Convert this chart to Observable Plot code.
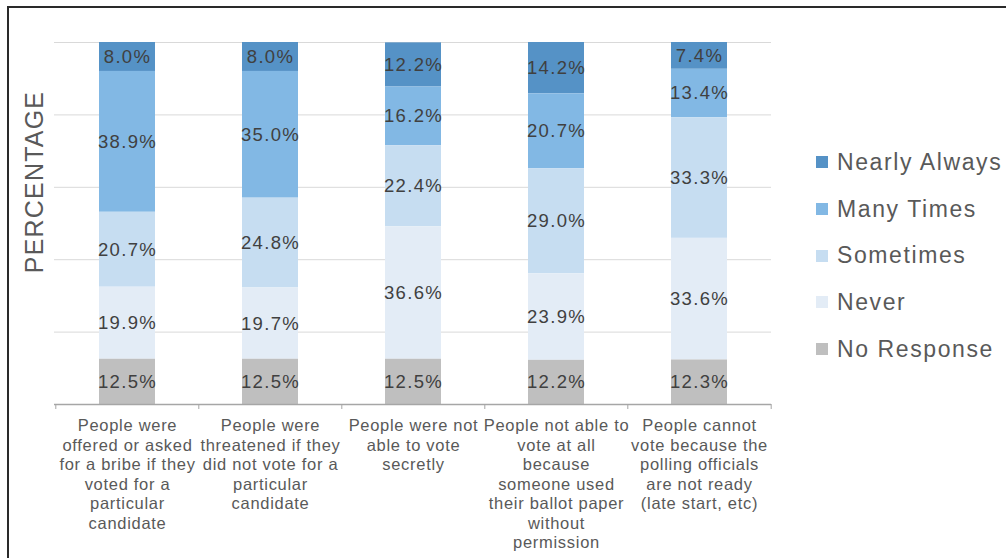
<!DOCTYPE html>
<html>
<head>
<meta charset="utf-8">
<script src="https://cdn.jsdelivr.net/npm/d3@7"></script>
<script src="https://cdn.jsdelivr.net/npm/@observablehq/plot@0.6"></script>
<style>
  html, body { margin: 0; padding: 0; background: #fff; }
  body { width: 1006px; height: 558px; position: relative; overflow: hidden; font-family: "Liberation Sans", Arial, sans-serif; }
  #frame { position: absolute; left: 7px; top: 6px; width: 1100px; height: 700px; border-left: 2px solid #2a2a2a; border-top: 2px solid #2a2a2a; }
  #chart { position: absolute; left: 0; top: 0; }
  #ytitle { position: absolute; left: 34px; top: 182px; transform: translate(-50%, -50%) rotate(-90deg); font-size: 25px; letter-spacing: 1.2px; color: #595959; white-space: nowrap; }
  #legend { position: absolute; left: 816px; top: 139px; }
  .item { height: 46.7px; display: flex; align-items: center; font-size: 23px; letter-spacing: 1.6px; color: #595959; white-space: nowrap; }
  .sw { width: 12px; height: 12px; margin-right: 9px; flex: none; }
  .vals text { letter-spacing: 1.3px; }
  .xlab text { letter-spacing: 0.7px; }
</style>
</head>
<body>
<div id="frame"></div>
<div id="chart"></div>
<div id="ytitle">PERCENTAGE</div>
<div id="legend"></div>
<script>
const categories = [
  "People were\noffered or asked\nfor a bribe if they\nvoted for a\nparticular\ncandidate",
  "People were\nthreatened if they\ndid not vote for a\nparticular\ncandidate",
  "People were not\nable to vote\nsecretly",
  "People not able to\nvote at all\nbecause\nsomeone used\ntheir ballot paper\nwithout\npermission",
  "People cannot\nvote because the\npolling officials\nare not ready\n(late start, etc)"
];
const series = ["Nearly Always", "Many Times", "Sometimes", "Never", "No Response"];
const nearlyAlways = [8.0, 8.0, 12.2, 14.2, 7.4];
const manyTimes = [38.9, 35.0, 16.2, 20.7, 13.4];
const sometimes = [20.7, 24.8, 22.4, 29.0, 33.3];
const never = [19.9, 19.7, 36.6, 23.9, 33.6];
const noResponse = [12.5, 12.5, 12.5, 12.2, 12.3];
const colors = ["#5592c6", "#82b8e4", "#c6ddf1", "#e3ecf6", "#bfbfbf"];
const gridTicks = [20, 40, 60, 80, 100];

const valuesBySeries = [nearlyAlways, manyTimes, sometimes, never, noResponse];
const rows = [];
series.forEach((s, si) => {
  categories.forEach((c, ci) => rows.push({cat: c, series: s, value: valuesBySeries[si][ci]}));
});
const stackOrder = series.slice().reverse();

const W = 1006, H = 558;
const mL = 54, mR = 235, mT = 42, mB = 154;
const step = (W - mL - mR) / categories.length;
const plotH = H - mT - mB;
const tickLen = 5 * 100 / plotH;

const chart = Plot.plot({
  width: W, height: H,
  marginLeft: mL, marginRight: mR, marginTop: mT, marginBottom: mB,
  style: {background: "transparent", fontFamily: "'Liberation Sans', Arial, sans-serif", overflow: "visible"},
  x: {domain: categories, paddingInner: 0.61, paddingOuter: 0.305, axis: null},
  y: {domain: [0, 100], axis: null},
  color: {domain: series, range: colors},
  marks: [
    Plot.gridY(gridTicks, {stroke: "#d9d9d9", strokeOpacity: 1}),
    Plot.barY(rows, Plot.stackY({x: "cat", y: "value", fill: "series", order: stackOrder})),
    Plot.text(rows, Plot.stackY({x: "cat", y: "value", z: "series", order: stackOrder,
      text: d => d.value.toFixed(1) + "%", fill: "#404040", fontSize: 18.5, className: "vals"})),
    Plot.ruleY([0], {stroke: "#a6a6a6", strokeWidth: 1.5}),
    Plot.ruleX(categories, {x: d => d, y1: 0, y2: -tickLen, dx: -step / 2, stroke: "#a6a6a6"}),
    Plot.ruleX(categories.slice(-1), {x: d => d, y1: 0, y2: -tickLen, dx: step / 2, stroke: "#a6a6a6"}),
    Plot.axisX({tickSize: 0, tickPadding: 13, fontSize: 16.5, lineHeight: 1.18, fill: "#595959", label: null, className: "xlab"})
  ]
});
document.getElementById("chart").appendChild(chart);

const legend = document.getElementById("legend");
series.forEach((s, i) => {
  const item = document.createElement("div");
  item.className = "item";
  const sw = document.createElement("span");
  sw.className = "sw";
  sw.style.background = colors[i];
  const lab = document.createElement("span");
  lab.textContent = s;
  item.appendChild(sw);
  item.appendChild(lab);
  legend.appendChild(item);
});
</script>
</body>
</html>
